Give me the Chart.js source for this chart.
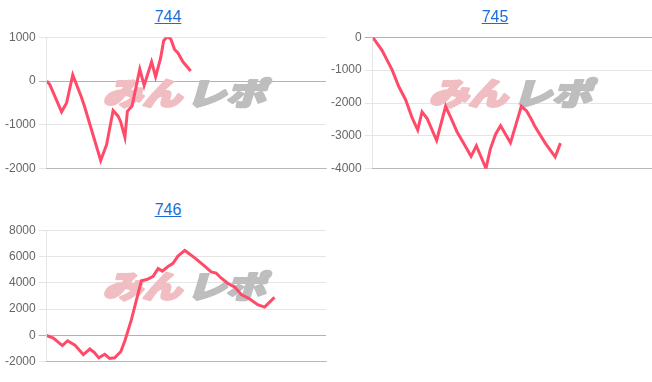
<!DOCTYPE html>
<html>
<head>
<meta charset="utf-8">
<script src="https://cdn.jsdelivr.net/npm/chart.js@4/dist/chart.umd.min.js"></script>
<style>
  body { margin: 0; background: #fff; font-family: "Liberation Sans", Arial, sans-serif; }
  .box { position: absolute; }
  .box a { position: absolute; left: 0; right: 0; top: 8px; text-align: center; font-size: 16px; color: #1a6ed8; text-decoration: underline; }
  .box canvas { position: absolute; left: 0; }
</style>
</head>
<body>
<div class="box" id="b744" style="left:0;top:0;width:336px;height:185px">
  <a href="#">744</a>
  <canvas id="c744" width="330" height="152" style="top:27px"></canvas>
</div>
<div class="box" id="b745" style="left:326px;top:0;width:338px;height:185px">
  <a href="#">745</a>
  <canvas id="c745" width="330" height="152" style="top:27px"></canvas>
</div>
<div class="box" id="b746" style="left:0;top:193px;width:336px;height:185px">
  <a href="#">746</a>
  <canvas id="c746" width="330" height="152" style="top:27px"></canvas>
</div>
<script>
// games played vs. coin difference
const games744 = [0, 100, 480, 640, 840, 1120, 1220, 1740, 1930, 2140, 2300, 2380, 2520, 2600, 2750, 3000, 3140, 3380, 3510, 3670, 3770, 3890, 4000, 4120, 4230, 4390, 4640];
const diff744 = [0, -80, -700, -500, 140, -370, -580, -1810, -1450, -670, -800, -920, -1280, -690, -570, 270, -100, 440, 100, 520, 920, 1010, 960, 720, 640, 440, 230];

const games745 = [0, 300, 630, 840, 1060, 1270, 1450, 1590, 1760, 2060, 2350, 2510, 2720, 2940, 3170, 3340, 3650, 3790, 3960, 4120, 4440, 4790, 4960, 5120, 5220, 5560, 5880, 6050];
const diff745 = [0, -400, -1000, -1500, -1900, -2450, -2820, -2270, -2480, -3140, -2100, -2430, -2880, -3240, -3620, -3300, -3990, -3400, -2950, -2690, -3210, -2100, -2240, -2510, -2700, -3220, -3640, -3220];

const games746 = [0, 215, 505, 675, 910, 1180, 1390, 1530, 1680, 1870, 2030, 2190, 2390, 2520, 2730, 3050, 3230, 3430, 3590, 3730, 3910, 4070, 4230, 4450, 4770, 5090, 5300, 5460, 5620, 5840, 6050, 6270, 6530, 6800, 7020, 7340];
const diff746 = [0, -200, -770, -400, -730, -1450, -1030, -1280, -1700, -1430, -1750, -1700, -1220, -400, 1200, 4150, 4250, 4500, 5080, 4890, 5250, 5480, 6030, 6460, 5900, 5270, 4830, 4740, 4370, 3950, 3700, 3110, 2790, 2340, 2160, 2900];

const gameMax = 9000;

const watermark = {
  id: "watermark",
  beforeDatasetsDraw(chart) {
    const a = chart.chartArea;
    const ctx = chart.ctx;
    ctx.save();
    ctx.translate((a.left + a.right) / 2, (a.top + a.bottom) / 2 - 10);
    ctx.transform(1.27, 0, -0.3, 1, 0, 0);
    ctx.font = "900 31px 'Noto Sans CJK JP'";
    ctx.textBaseline = "middle";
    ctx.lineWidth = 2.5;
    ctx.lineJoin = "round";
    ctx.textAlign = "right";
    ctx.fillStyle = ctx.strokeStyle = "rgb(240, 190, 194)";
    ctx.fillText("みん", -1, 0);
    ctx.strokeText("みん", -1, 0);
    ctx.textAlign = "left";
    ctx.fillStyle = ctx.strokeStyle = "rgb(190, 190, 190)";
    ctx.fillText("レポ", 3, 0);
    ctx.strokeText("レポ", 3, 0);
    ctx.restore();
  }
};

const drawCanvas = (id, games, diffs, yMin, yMax, step) => {
  const ctx = document.getElementById(id).getContext("2d");
  const points = games.map((g, i) => ({ x: g, y: diffs[i] }));
  return new Chart(ctx, {
    type: "line",
    data: {
      datasets: [
        {
          data: points,
          borderColor: "rgb(255, 75, 105)",
          borderWidth: 3,
          pointRadius: 0,
          tension: 0,
          fill: false
        }
      ]
    },
    options: {
      responsive: false,
      animation: false,
      layout: { padding: { left: 2, right: 4, top: 3, bottom: 0 } },
      plugins: { legend: { display: false }, tooltip: { enabled: false } },
      scales: {
        x: {
          type: "linear",
          min: 0,
          max: gameMax,
          ticks: { display: false },
          grid: { display: false },
          border: { color: "rgba(0,0,0,0.2)" }
        },
        y: {
          min: yMin,
          max: yMax,
          ticks: {
            stepSize: step,
            color: "#666",
            font: { size: 12, family: "'Liberation Sans', Arial" },
            callback: v => String(v)
          },
          grid: {
            color: c => (c.tick && c.tick.value === 0 ? "rgba(0,0,0,0.3)" : "rgba(0,0,0,0.1)")
          },
          border: { color: "rgba(0,0,0,0.1)" }
        }
      }
    },
    plugins: [watermark]
  });
};

drawCanvas("c744", games744, diff744, -2000, 1000, 1000);
drawCanvas("c745", games745, diff745, -4000, 0, 1000);
drawCanvas("c746", games746, diff746, -2000, 8000, 2000);
</script>
</body>
</html>
